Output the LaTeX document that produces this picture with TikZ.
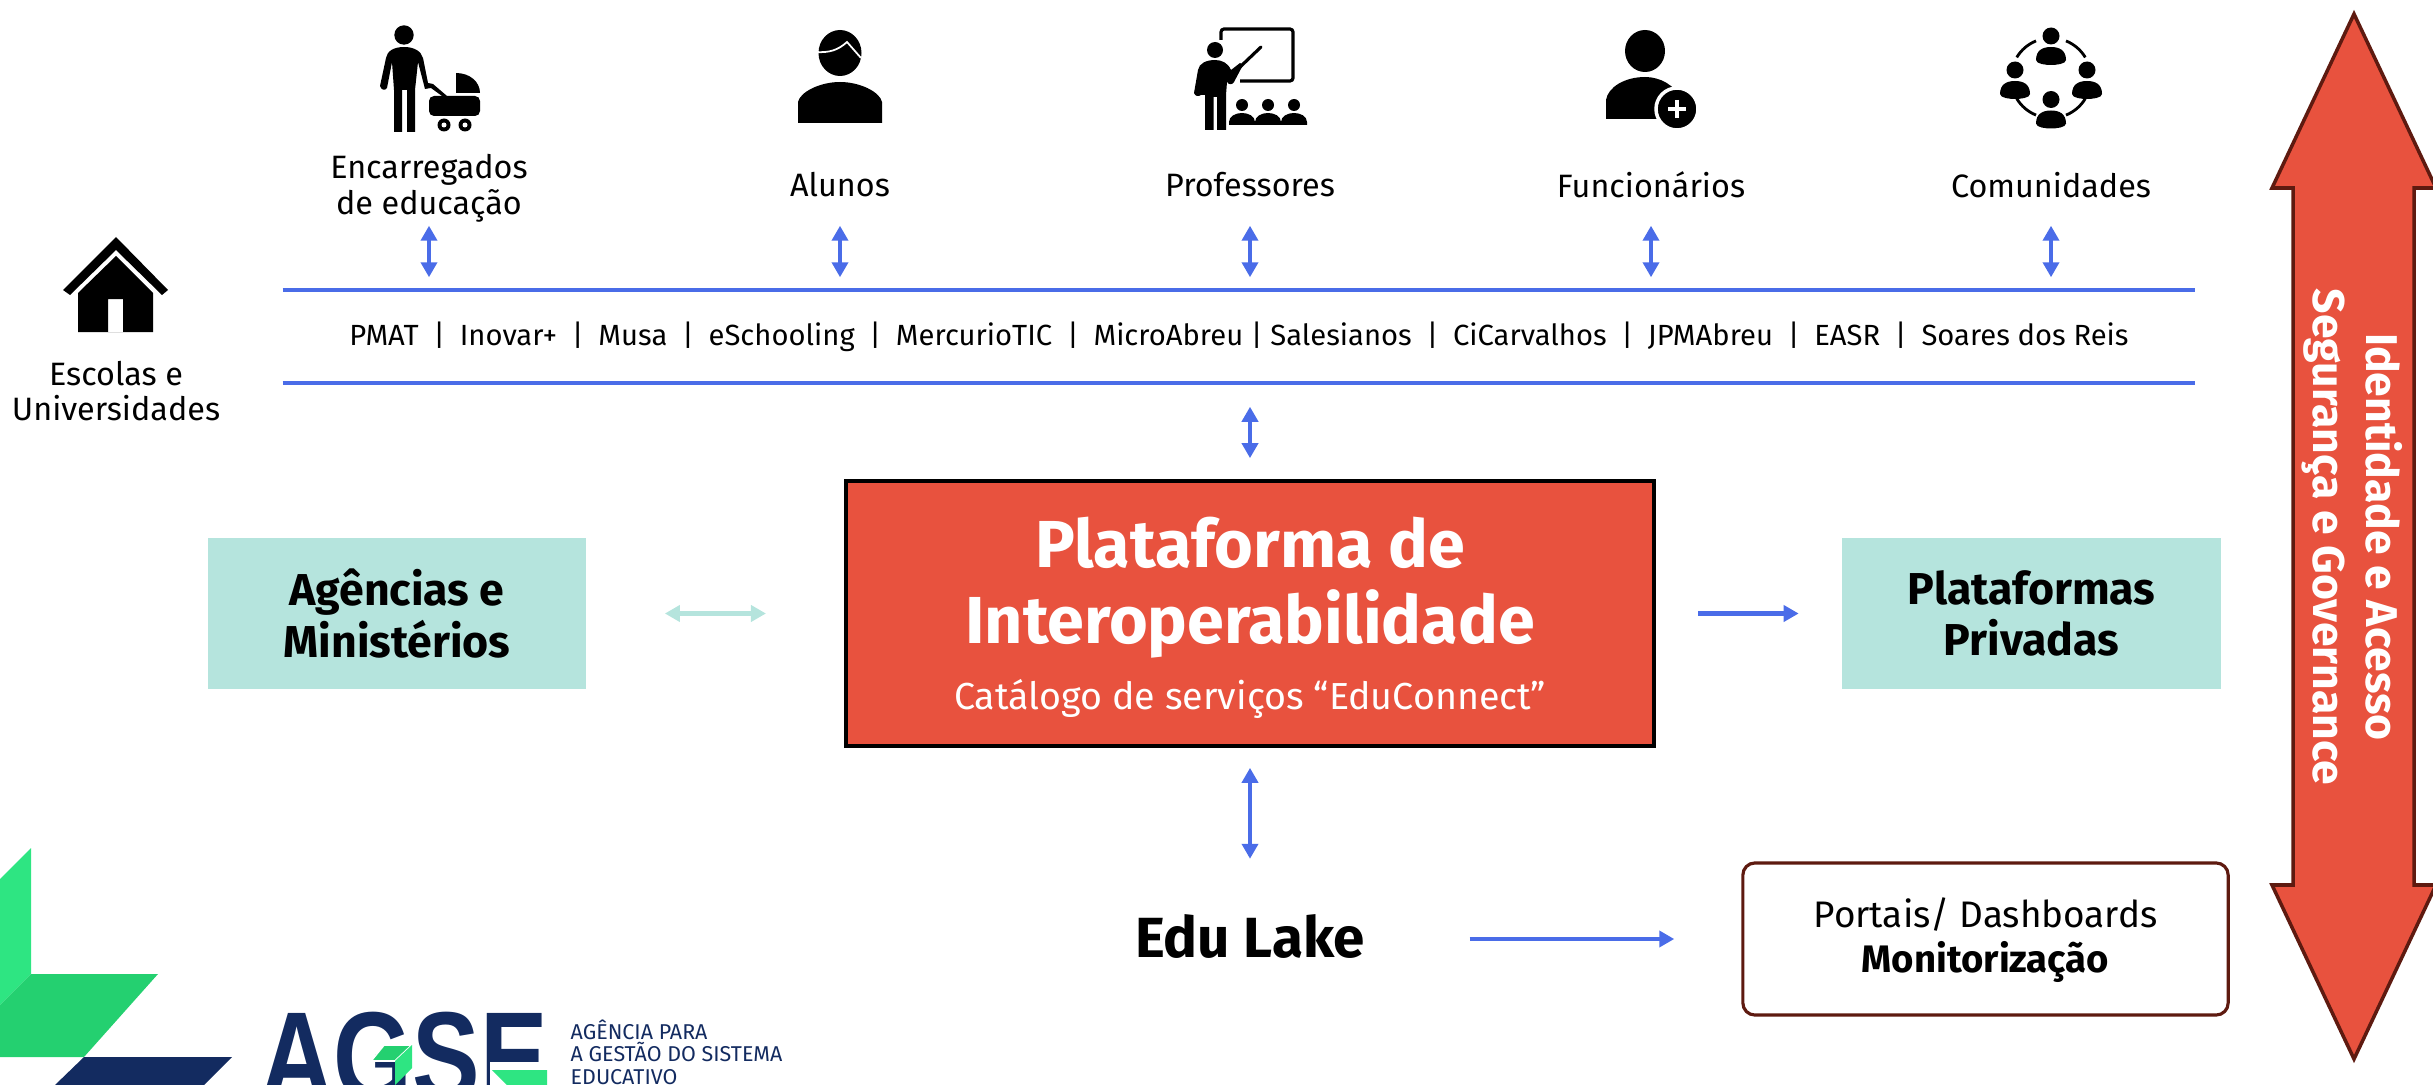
\documentclass[tikz,border=0pt]{standalone}
\usepackage{fontspec}
\setmainfont{Fira Sans}
\usetikzlibrary{arrows.meta}
\definecolor{platred}{HTML}{E8523E}
\definecolor{platdark}{HTML}{5E1A10}
\definecolor{linkblue}{HTML}{4A6CE8}
\definecolor{softteal}{HTML}{B5E4DD}
\definecolor{logonavy}{HTML}{132B60}
\definecolor{logolight}{HTML}{2EE582}
\definecolor{logogreen}{HTML}{24D070}
\newcommand{\fsize}[2]{\fontsize{#1pt}{#2pt}\selectfont}
\newcommand{\sepbar}{\hspace{4.2pt}|\hspace{4.2pt}}

\begin{document}
\begin{tikzpicture}[x=0.01cm, y=-0.01cm,
    actor/.style={inner sep=0pt, align=center, minimum height=0.8cm, font=\fsize{9.2}{10.2}},
    teal box/.style={fill=softteal, minimum width=3.78cm, minimum height=1.51cm, inner sep=0pt, align=center, font=\fsize{12.7}{14.6}\bfseries},
    link/.style={line width=1.2pt, draw=linkblue, -{Triangle[length=0.15cm,width=0.16cm]}},
    both/.style={line width=1.2pt, draw=linkblue, {Triangle[length=0.15cm,width=0.16cm]}-{Triangle[length=0.15cm,width=0.16cm]}},
    commperson/.pic={
      \fill (0,0) circle (8.5);
      \fill (-15,24) .. controls (-15,14) and (-8,11) .. (0,11) .. controls (8,11) and (15,14) .. (15,24)
        .. controls (15,28) and (5,29) .. (0,29) .. controls (-5,29) and (-15,28) .. cycle;
    },
    roomperson/.pic={
      \fill (0,0) circle (6);
      \fill (-13,20) -- (-13,17) .. controls (-13,11) and (-6,8) .. (0,8) .. controls (6,8) and (13,11) .. (13,17) -- (13,20) -- cycle;
    }]
  \clip (0,0) rectangle (2433,1085);

  % actors
  \node[actor, minimum height=0.74cm] (encarregados) at (429,188) {Encarregados\\de educação};
  \node[actor] (alunos) at (840,185) {Alunos};
  \node[actor] (professores) at (1250,185) {Professores};
  \node[actor] (funcionarios) at (1651,185) {Funcionários};
  \node[actor] (comunidades) at (2051,185) {Comunidades};
  \node[actor, minimum height=0cm] (escolas) at (116,391) {Escolas e\\Universidades};

  % partners bar
  \node[inner sep=0pt, minimum width=19.1cm, minimum height=0.91cm, font=\fsize{8.3}{10}] (parceiros) at (1239,336.5)
    {PMAT\sepbar Inovar+\sepbar Musa\sepbar eSchooling\sepbar MercurioTIC\sepbar MicroAbreu | Salesianos\sepbar CiCarvalhos\sepbar JPMAbreu\sepbar EASR\sepbar Soares dos Reis};
  \draw[line width=1.1pt, linkblue] (parceiros.north west) -- (parceiros.north east);
  \draw[line width=1.1pt, linkblue] (parceiros.south west) -- (parceiros.south east);

  % centre
  \node[fill=platred, draw=black, line width=1pt, minimum width=8.08cm, minimum height=2.65cm, inner sep=0pt] (plat) at (1250,613.5) {};
  \node[text=white, inner sep=0pt, align=center, font=\fsize{18.9}{21.6}\bfseries] (titulo) at (1250,588) {Plataforma de\\Interoperabilidade};
  \node[text=white, inner sep=0pt, font=\fsize{10.7}{12}] (catalogo) at (1250,699) {Catálogo de serviços “EduConnect”};
  \node[teal box] (agencias) at (397,613.5) {Agências e\\Ministérios};
  \node[teal box] (privadas) at (2031.5,613.5) {Plataformas\\Privadas};
  \node[inner sep=0pt, text depth=1.7pt, font=\fsize{16.1}{18}\bfseries] (edu) at (1250,939) {Edu Lake};
  \node[draw=platdark, line width=0.9pt, rounded corners=0.12cm, minimum width=4.85cm, minimum height=1.52cm, inner sep=0pt, align=center, font=\fsize{10.5}{12.8}] (portais) at (1985.5,939)
    {\rule{0pt}{9.2pt}Portais/ Dashboards\\{\fsize{10.9}{12.8}\bfseries Monitorização}};

  % connectors
  \foreach \who in {encarregados,alunos,professores,funcionarios,comunidades}
    \draw[both, shorten >=0.13cm] (\who.south) -- (\who.south |- parceiros.north);
  \draw[both, shorten <=0.21cm, shorten >=0.24cm] (plat.north) -- (plat.north |- parceiros.south);
  \draw[both, shorten <=0.2cm, shorten >=0.55cm] (plat.south) -- (edu.north);
  \draw[both, draw=softteal, {Triangle[length=0.15cm,width=0.16cm,fill=softteal]}-{Triangle[length=0.15cm,width=0.16cm,fill=softteal]}, shorten <=0.78cm, shorten >=0.78cm] (agencias.east) -- (plat.west);
  \draw[link, shorten <=0.42cm, shorten >=0.43cm] (plat.east) -- (privadas.west);
  \draw[link, shorten <=1.04cm, shorten >=0.67cm] (edu.east) -- (portais.west);

  % big arrow
  \draw[fill=platred, draw=platdark, line width=1pt, miter limit=10]
    (2354,14) -- (2436,188) -- (2414,188) -- (2414,885) -- (2436,885) -- (2354,1059) -- (2272,885) -- (2293,885) -- (2293,188) -- (2272,188) -- cycle;
  \node[rotate=-90, text=white, inner sep=0pt, align=center, font=\fsize{12.65}{15}\bfseries] (seguranca) at (2352,537) {Identidade e Acesso\\Segurança e Governance};

  % house
  \fill (63,290) -- (116,237) -- (168,290) -- (162,295) -- (116,250) -- (70,295) -- cycle;
  \fill[even odd rule] (116,256) -- (153,293) -- (153,332) -- (78,332) -- (78,293) -- cycle (108,299) rectangle (123,332);

  % parent with pram
  \fill (404,35) circle (9.7);
  \fill (394,132) -- (394,90) -- (392,62) -- (387,88) .. controls (385,91) and (381,90) .. (380,86) -- (386,58)
    .. controls (387,51) and (394,47) .. (404,47) .. controls (414,47) and (421,51) .. (423,58) -- (428,83) -- (433,84)
    -- (447,96) -- (442,96) -- (431,88) -- (425,89) -- (418,62) -- (415,90) -- (415,132) -- (407,132) -- (407,90) -- (402,90) -- (402,132) -- cycle;
  \fill[rounded corners=0.05cm] (429,96) -- (480,96) -- (480,116) -- (429,116) -- cycle;
  \fill (456,93) -- (456,73) .. controls (470,73) and (480,82) .. (480,93) -- cycle;
  \foreach \wx in {444,465} {
    \fill (\wx,125) circle (6.5);
    \fill[white] (\wx,125) circle (2.5);
  }

  % student
  \fill (840,53) ellipse (21.5 and 23);
  \draw[white, line width=0.5pt] (815,52) .. controls (830,53) and (838,50) .. (847,42) -- (861,58);
  \fill (798,123) -- (798,102) .. controls (800,92) and (820,82) .. (840,82) .. controls (860,82) and (880,92) .. (882,102) -- (882,123) -- cycle;

  % teacher
  \draw[line width=0.9pt, rounded corners=0.03cm] (1221,40) -- (1221,29) -- (1293,29) -- (1293,81) -- (1240,81);
  \draw[line width=0.9pt, line cap=round] (1261,47) -- (1240,67);
  \fill (1215,50) circle (8);
  \fill (1205,130) -- (1205,95) -- (1201,95) .. controls (1198,97) and (1195,96) .. (1194,93) -- (1198,70)
    .. controls (1199,63) and (1207,60) .. (1215,60) .. controls (1222,60) and (1228,63) .. (1231,70) -- (1240,63) -- (1243,65) -- (1234,82) .. controls (1232,85) and (1229,85) .. (1227,82)
    -- (1226,95) -- (1226,130) -- (1217,130) -- (1217,97) -- (1213.5,97) -- (1213.5,130) -- cycle;
  \foreach \sx in {1242,1268,1294} \pic at (\sx,105) {roomperson};

  % staff
  \fill (1645,51) ellipse (20 and 21);
  \fill (1606,119) -- (1606,100) .. controls (1608,87) and (1625,77) .. (1645,77) .. controls (1660,77) and (1675,85) .. (1682,100) -- (1682,119) -- cycle;
  \fill[black, draw=white, line width=1pt] (1677,109) circle (21);
  \draw[white, line width=1.3pt] (1668,109) -- (1686,109) (1677,100) -- (1677,118);

  % communities
  \foreach \cx/\cy in {2051/36,2015/70,2087/70,2051/99.5} \pic at (\cx,\cy) {commperson};
  \foreach \from/\to in {31/68,112/149,211/248,292/329}
    \draw[line width=0.8pt] (2051,78) ++(\from:40) arc[start angle=\from, end angle=\to, radius=40];

  % logo
  \fill[logolight] (31,848) -- (31,974) -- (0,1005) -- (0,879) -- cycle;
  \fill[logogreen] (31,974) -- (158,974) -- (84,1057) -- (0,1057) -- (0,1005) -- cycle;
  \fill[logonavy] (84,1057) -- (232,1057) -- (204,1085) -- (55,1085) -- cycle;
  \node[anchor=base west, inner sep=0pt, text=logonavy, xscale=0.8, font=\fontspec{Liberation Sans}\fsize{36}{36}\bfseries] (agse) at (260,1100) {AGSE};
  \fill[white] (490,1062) rectangle (550,1090);
  \fill[logolight] (492,1070) -- (547,1070) -- (547,1085) -- (507,1085) -- cycle;
  \fill[logogreen, draw=white, line width=0.5pt] (371,1061) -- (384,1045) -- (412,1045) -- (395,1061) -- cycle;
  \fill[logolight] (412,1045) -- (412,1068) -- (395,1085) -- (395,1061) -- cycle;
  \node[anchor=north west, inner sep=0pt, align=left, text=logonavy, font=\fsize{6.1}{6.4}] (agencia) at (570,1019) {AGÊNCIA PARA\\A GESTÃO DO SISTEMA\\EDUCATIVO};
\end{tikzpicture}
\end{document}
